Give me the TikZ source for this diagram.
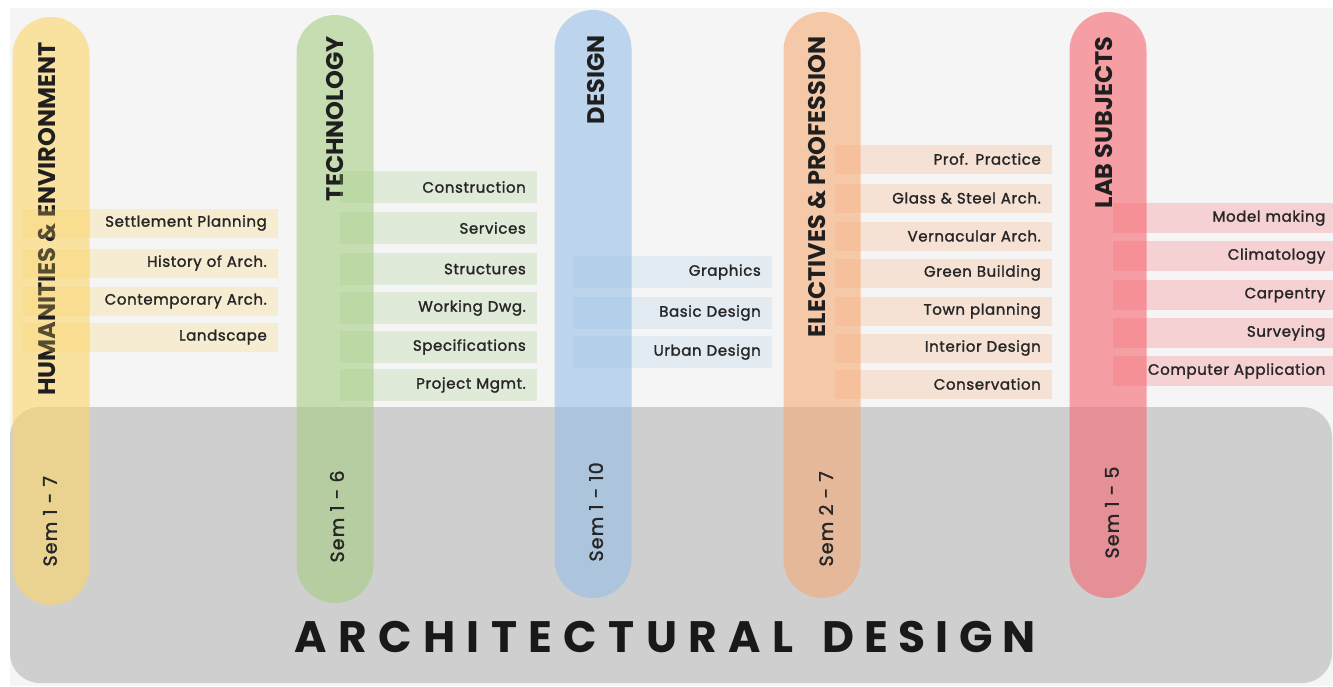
\documentclass[tikz,border=0pt]{standalone}
\usepackage{fontspec}
\setmainfont{Poppins}
\newfontfamily\bigfont{Poppins}[LetterSpace=26]
\newfontfamily\bigfontb{Poppins}[LetterSpace=23]
\newfontfamily\subjfont{Poppins}[LetterSpace=4, FakeBold=1.6]
\newfontfamily\semfont{Poppins}[LetterSpace=6, FakeBold=1.4]
\begin{document}
\begin{tikzpicture}[x=1pt,y=-1pt,
  pill/.style={rounded corners=38.5pt, minimum width=77pt, fill opacity=0.6, text opacity=1, inner sep=0pt},
  ptitle/.style={rotate=90, anchor=east, font=\fontsize{24}{24}\selectfont\bfseries, text=black!88},
  sem/.style={rotate=90, anchor=west, font=\semfont\fontsize{19}{19}\selectfont, text=black!85},
  subj/.style={anchor=east, minimum height=29pt, inner xsep=11pt, inner ysep=0pt, align=right, fill opacity=0.25, text opacity=1, font=\subjfont\fontsize{15}{15}\selectfont, text=black!85},
  big/.style={inner sep=0pt, text=black!90}
]
\definecolor{bgl}{HTML}{F5F5F5}
\definecolor{gbox}{HTML}{CFCFCF}
\definecolor{cY}{HTML}{FCD467}
\definecolor{cG}{HTML}{A5CD82}
\definecolor{cB}{HTML}{96BEE6}
\definecolor{cO}{HTML}{F5AA75}
\definecolor{cR}{HTML}{F56770}
\useasboundingbox (0,0) rectangle (1333,686);
\fill[white] (0,0) rectangle (1333,686);
\fill[bgl] (10,8) rectangle (1333,686);
\node[fill=gbox, rounded corners=30pt, minimum width=1322pt, minimum height=276pt, inner sep=0pt] (base) at (671,545) {};
\node[big, anchor=west, font=\bigfont\fontsize{44}{44}\selectfont\bfseries] (arch1) at (294,637) {ARCHITECTURAL};
\node[big, anchor=east, font=\bigfontb\fontsize{44}{44}\selectfont\bfseries] (arch2) at (1036,637) {DESIGN};

% pills
\node[pill, fill=cY, minimum height=588pt] (hum) at (51,311) {};
\node[pill, fill=cG, minimum height=588pt] (tech) at (335,309) {};
\node[pill, fill=cB, minimum height=588pt] (des) at (593,304) {};
\node[pill, fill=cO, minimum height=586pt] (ele) at (822,305) {};
\node[pill, fill=cR, minimum height=586pt] (lab) at (1108,305) {};

% titles
\node[ptitle] (humt) at (47,39) {HUMANITIES \& ENVIRONMENT};
\node[ptitle] (techt) at (335,33) {TECHNOLOGY};
\node[ptitle] (dest) at (596,32) {DESIGN};
\node[ptitle] (elet) at (817,33) {ELECTIVES \& PROFESSION};
\node[ptitle] (labt) at (1104,33) {LAB SUBJECTS};

% semesters
\node[sem] (hums) at (50,570) {Sem 1 - 7};
\node[sem] (techs) at (337,566) {Sem 1 - 6};
\node[sem] (dess) at (596,565) {Sem 1 - 10};
\node[sem] (eles) at (826,570) {Sem 2 - 7};
\node[sem] (labs) at (1112,562) {Sem 1 - 5};

% humanities subjects
\begin{scope}[every node/.style={subj, fill=cY, text width=233pt}]
\node (h1) at (278,223) {Settlement Planning};
\node (h2) at (278,263) {History of Arch.};
\node (h3) at (278,301) {Contemporary Arch.};
\node (h4) at (278,337) {Landscape};
\end{scope}
% technology subjects
\begin{scope}[every node/.style={subj, fill=cG, text width=175pt, minimum height=32pt}]
\node (t1) at (537,187) {Construction};
\node (t2) at (537,228) {Services};
\node (t3) at (537,269) {Structures};
\node (t4) at (537,308) {Working Dwg.};
\node (t5) at (537,347) {Specifications};
\node (t6) at (537,385) {Project Mgmt.};
\end{scope}
% design subjects
\begin{scope}[every node/.style={subj, fill=cB, fill opacity=0.2, text width=177pt, minimum height=32pt}]
\node (d1) at (772,272) {Graphics};
\node (d2) at (772,313) {Basic Design};
\node (d3) at (772,352) {Urban Design};
\end{scope}
% electives subjects
\begin{scope}[every node/.style={subj, fill=cO, text width=195pt}]
\node (e1) at (1052,159) {Prof. Practice};
\node (e2) at (1052,198) {Glass \& Steel Arch.};
\node (e3) at (1052,236) {Vernacular Arch.};
\node (e4) at (1052,273) {Green Building};
\node (e5) at (1052,311) {Town planning};
\node (e6) at (1052,348) {Interior Design};
\node (e7) at (1052,384) {Conservation};
\end{scope}
% lab subjects
\begin{scope}[every node/.style={subj, fill=cR, text width=205pt, inner xsep=7.5pt, minimum height=30pt}]
\node (l1) at (1333,218) {Model making};
\node (l2) at (1333,256) {Climatology};
\node (l3) at (1333,295) {Carpentry};
\node (l4) at (1333,333) {Surveying};
\node (l5) at (1333,371) {Computer Application};
\end{scope}
\end{tikzpicture}
\end{document}
